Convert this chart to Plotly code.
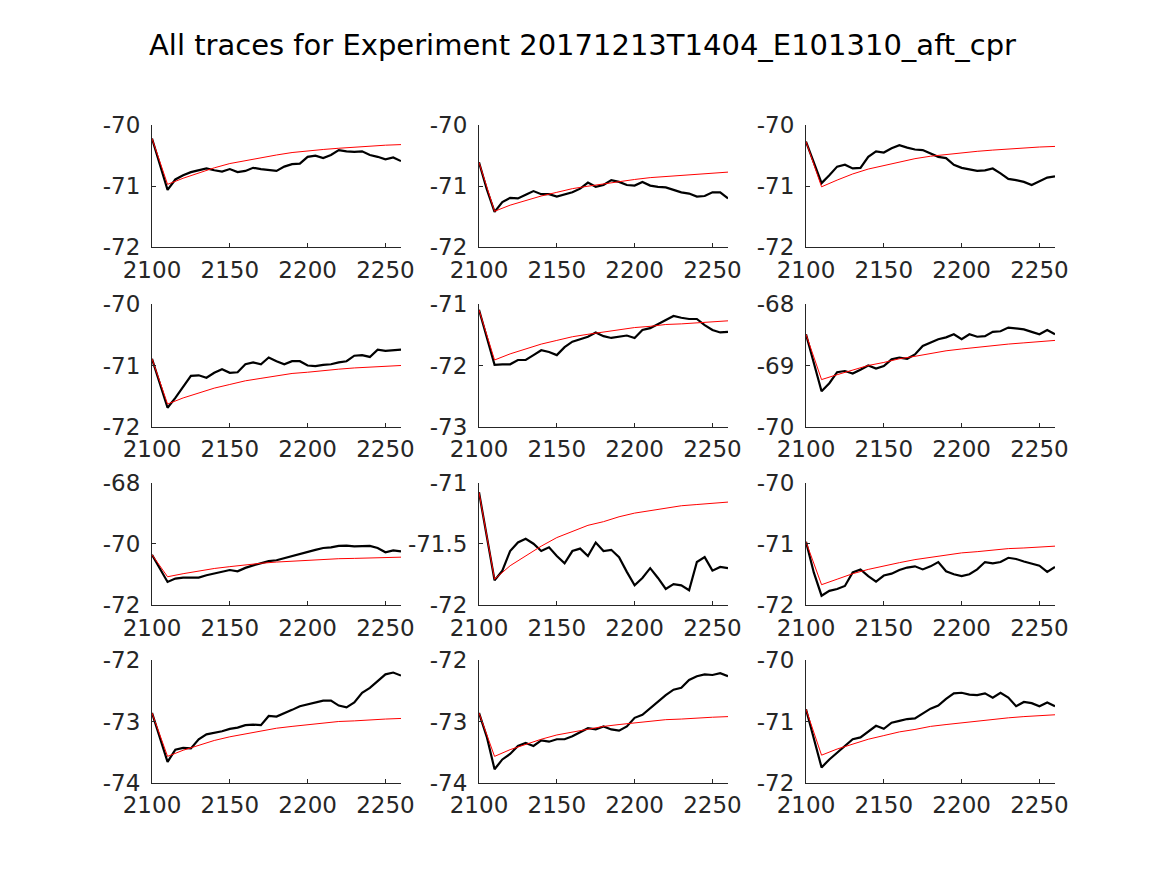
import plotly.graph_objects as go

# the page body adds an 8px margin, so the figure is drawn 8px smaller
# and every reference pixel position is shifted by that offset
W, H = 1151, 859
OFF = 8
title = 'All traces for Experiment 20171213T1404_E101310_aft_cpr'

# time axis of the recorded traces and of the fitted curves
x_trace = list(range(2100, 2261, 5))
x_fit = [2100] + list(range(2110, 2261, 10))

trace1 = [-70.22, -70.63, -71.06, -70.89, -70.82, -70.77, -70.74, -70.71, -70.74, -70.76, -70.72, -70.77, -70.75, -70.70, -70.72, -70.74, -70.75, -70.68, -70.64, -70.63, -70.52, -70.50, -70.54, -70.49, -70.41, -70.43, -70.44, -70.43, -70.49, -70.52, -70.56, -70.53, -70.59]
trace2 = [-70.61, -71.05, -71.42, -71.26, -71.19, -71.20, -71.14, -71.08, -71.13, -71.13, -71.17, -71.13, -71.10, -71.04, -70.94, -71.01, -70.98, -70.90, -70.93, -70.98, -70.99, -70.93, -70.99, -71.01, -71.02, -71.06, -71.10, -71.12, -71.17, -71.16, -71.10, -71.10, -71.20]
trace3 = [-70.27, -70.60, -70.95, -70.82, -70.68, -70.65, -70.71, -70.70, -70.52, -70.43, -70.45, -70.38, -70.33, -70.37, -70.40, -70.41, -70.46, -70.52, -70.54, -70.65, -70.70, -70.72, -70.75, -70.74, -70.71, -70.79, -70.88, -70.90, -70.93, -70.98, -70.92, -70.86, -70.84]
trace4 = [-70.89, -71.28, -71.69, -71.53, -71.36, -71.17, -71.16, -71.20, -71.12, -71.06, -71.12, -71.11, -70.98, -70.95, -70.98, -70.87, -70.93, -70.98, -70.93, -70.93, -71.00, -71.01, -70.99, -70.98, -70.95, -70.93, -70.84, -70.83, -70.86, -70.74, -70.76, -70.75, -70.74]
trace5 = [-71.09, -71.52, -71.99, -71.98, -71.98, -71.91, -71.91, -71.83, -71.75, -71.78, -71.83, -71.70, -71.61, -71.57, -71.53, -71.46, -71.52, -71.55, -71.53, -71.51, -71.55, -71.42, -71.39, -71.32, -71.26, -71.19, -71.22, -71.24, -71.24, -71.34, -71.42, -71.46, -71.45]
trace6 = [-68.49, -68.95, -69.42, -69.29, -69.11, -69.09, -69.13, -69.07, -69.00, -69.05, -69.01, -68.90, -68.87, -68.89, -68.82, -68.68, -68.63, -68.57, -68.54, -68.49, -68.57, -68.49, -68.53, -68.52, -68.45, -68.44, -68.38, -68.40, -68.41, -68.45, -68.49, -68.42, -68.49]
trace7 = [-70.36, -70.79, -71.25, -71.14, -71.11, -71.11, -71.11, -71.03, -70.97, -70.90, -70.86, -70.90, -70.79, -70.71, -70.65, -70.57, -70.54, -70.47, -70.41, -70.33, -70.25, -70.20, -70.14, -70.12, -70.07, -70.06, -70.09, -70.09, -70.07, -70.14, -70.28, -70.22, -70.25]
trace8 = [-71.08, -71.45, -71.80, -71.72, -71.56, -71.49, -71.46, -71.50, -71.56, -71.53, -71.60, -71.66, -71.56, -71.54, -71.60, -71.49, -71.56, -71.55, -71.61, -71.73, -71.84, -71.78, -71.70, -71.78, -71.87, -71.83, -71.84, -71.88, -71.65, -71.61, -71.72, -71.69, -71.70]
trace9 = [-70.97, -71.47, -71.85, -71.77, -71.74, -71.69, -71.47, -71.42, -71.53, -71.62, -71.52, -71.49, -71.43, -71.39, -71.37, -71.42, -71.37, -71.30, -71.45, -71.50, -71.53, -71.50, -71.42, -71.30, -71.32, -71.30, -71.23, -71.25, -71.29, -71.32, -71.36, -71.46, -71.38]
trace10 = [-72.86, -73.26, -73.66, -73.46, -73.43, -73.44, -73.29, -73.21, -73.19, -73.16, -73.12, -73.10, -73.06, -73.05, -73.06, -72.91, -72.92, -72.87, -72.81, -72.75, -72.72, -72.68, -72.66, -72.66, -72.74, -72.77, -72.69, -72.53, -72.45, -72.34, -72.23, -72.20, -72.25]
trace11 = [-72.86, -73.25, -73.78, -73.62, -73.53, -73.40, -73.35, -73.40, -73.31, -73.33, -73.29, -73.29, -73.24, -73.17, -73.11, -73.13, -73.08, -73.13, -73.15, -73.08, -72.94, -72.89, -72.78, -72.67, -72.57, -72.48, -72.45, -72.32, -72.26, -72.23, -72.24, -72.21, -72.26]
trace12 = [-70.80, -71.26, -71.75, -71.62, -71.51, -71.40, -71.29, -71.26, -71.16, -71.07, -71.12, -71.02, -70.99, -70.96, -70.95, -70.87, -70.79, -70.74, -70.63, -70.54, -70.53, -70.56, -70.57, -70.54, -70.61, -70.53, -70.61, -70.75, -70.68, -70.70, -70.75, -70.69, -70.75]

fit1 = [-70.22, -70.97, -70.87, -70.78, -70.70, -70.63, -70.58, -70.53, -70.49, -70.45, -70.42, -70.40, -70.38, -70.36, -70.34, -70.33, -70.32]
fit2 = [-70.61, -71.41, -71.31, -71.23, -71.16, -71.10, -71.04, -71.00, -70.96, -70.92, -70.89, -70.86, -70.84, -70.82, -70.80, -70.79, -70.77]
fit3 = [-70.27, -71.01, -70.90, -70.80, -70.72, -70.66, -70.60, -70.55, -70.51, -70.48, -70.45, -70.43, -70.41, -70.39, -70.38, -70.36, -70.35]
fit4 = [-70.89, -71.63, -71.53, -71.45, -71.37, -71.31, -71.25, -71.21, -71.17, -71.13, -71.11, -71.08, -71.06, -71.04, -71.03, -71.01, -71.00]
fit5 = [-71.09, -71.91, -71.81, -71.73, -71.65, -71.59, -71.53, -71.49, -71.45, -71.41, -71.38, -71.36, -71.33, -71.32, -71.30, -71.29, -71.27]
fit6 = [-68.49, -69.23, -69.15, -69.07, -69.00, -68.95, -68.89, -68.85, -68.80, -68.76, -68.73, -68.70, -68.67, -68.65, -68.63, -68.61, -68.59]
fit7 = [-70.36, -71.08, -70.98, -70.89, -70.81, -70.75, -70.69, -70.64, -70.60, -70.57, -70.54, -70.52, -70.49, -70.48, -70.46, -70.45, -70.44]
fit8 = [-71.08, -71.79, -71.68, -71.60, -71.52, -71.45, -71.40, -71.35, -71.32, -71.28, -71.25, -71.23, -71.21, -71.19, -71.18, -71.17, -71.16]
fit9 = [-70.97, -71.67, -71.58, -71.49, -71.42, -71.36, -71.31, -71.26, -71.22, -71.18, -71.15, -71.13, -71.10, -71.08, -71.07, -71.05, -71.04]
fit10 = [-72.86, -73.57, -73.47, -73.39, -73.31, -73.25, -73.20, -73.15, -73.11, -73.08, -73.05, -73.03, -73.00, -72.99, -72.97, -72.96, -72.95]
fit11 = [-72.86, -73.57, -73.46, -73.37, -73.29, -73.22, -73.17, -73.12, -73.08, -73.05, -73.02, -72.99, -72.97, -72.96, -72.94, -72.93, -72.92]
fit12 = [-70.80, -71.55, -71.45, -71.37, -71.29, -71.23, -71.17, -71.13, -71.08, -71.05, -71.02, -70.99, -70.96, -70.94, -70.92, -70.91, -70.89]

y_ranges = [(-72, -70), (-72, -70), (-72, -70),
            (-72, -70), (-73, -71), (-70, -68),
            (-72, -68), (-72, -71), (-72, -70),
            (-74, -72), (-74, -72), (-72, -70)]
y_ticks = [[-72, -71, -70], [-72, -71, -70], [-72, -71, -70],
           [-72, -71, -70], [-73, -72, -71], [-70, -69, -68],
           [-72, -70, -68], [-72, -71.5, -71], [-72, -71, -70],
           [-74, -73, -72], [-74, -73, -72], [-72, -71, -70]]
x_ticks = [2100, 2150, 2200, 2250]

traces = [trace1, trace2, trace3, trace4, trace5, trace6,
          trace7, trace8, trace9, trace10, trace11, trace12]
fits = [fit1, fit2, fit3, fit4, fit5, fit6,
        fit7, fit8, fit9, fit10, fit11, fit12]

# pixel geometry (in the reference picture) of the matlab style subplot grid
col_left = [152, 479, 806]
ax_w = 249
row_top = [125, 304.3, 482.5, 660.3]
ax_h = 122.4

axcol = '#262626'
font = dict(family='DejaVu Sans', size=23, color=axcol)

fig = go.Figure()
layout = dict(width=W, height=H,
              margin=dict(l=0, r=0, t=0, b=0, pad=0, autoexpand=False),
              paper_bgcolor='white', plot_bgcolor='white', showlegend=False)

for i in range(12):
    r, c = i // 3, i % 3
    n = '' if i == 0 else str(i + 1)
    fig.add_trace(go.Scatter(x=x_trace, y=traces[i], mode='lines',
                             line=dict(color='black', width=2.2),
                             xaxis='x' + n, yaxis='y' + n))
    fig.add_trace(go.Scatter(x=x_fit, y=fits[i], mode='lines',
                             line=dict(color='red', width=1),
                             xaxis='x' + n, yaxis='y' + n))
    x0 = (col_left[c] - OFF) / W
    x1 = (col_left[c] + ax_w - OFF) / W
    y1 = 1 - (row_top[r] - OFF) / H
    y0 = 1 - (row_top[r] + ax_h - OFF) / H
    layout['xaxis' + n] = dict(
        domain=[x0, x1], anchor='y' + n, range=[2100, 2260],
        tickvals=x_ticks, ticktext=[str(v) for v in x_ticks],
        ticks='inside', ticklen=4, tickcolor=axcol,
        showline=True, linecolor=axcol, linewidth=1, automargin=False,
        showgrid=False, zeroline=False, tickfont=font, ticklabelstandoff=2)
    lo, hi = y_ranges[i]
    layout['yaxis' + n] = dict(
        domain=[y0, y1], anchor='x' + n, range=[lo, hi],
        tickvals=y_ticks[i], ticktext=['%g' % v for v in y_ticks[i]],
        ticks='inside', ticklen=4, tickcolor=axcol,
        showline=True, linecolor=axcol, linewidth=1, automargin=False,
        showgrid=False, zeroline=False, tickfont=font, ticklabelstandoff=6)

layout['annotations'] = [dict(text=title, x=(582 - OFF) / W, y=1 - (45 - OFF) / H,
                              xref='paper', yref='paper', showarrow=False,
                              xanchor='center', yanchor='middle',
                              font=dict(family='DejaVu Sans', size=29, color='black'))]

fig.update_layout(**layout)
fig.write_html("out.html")
